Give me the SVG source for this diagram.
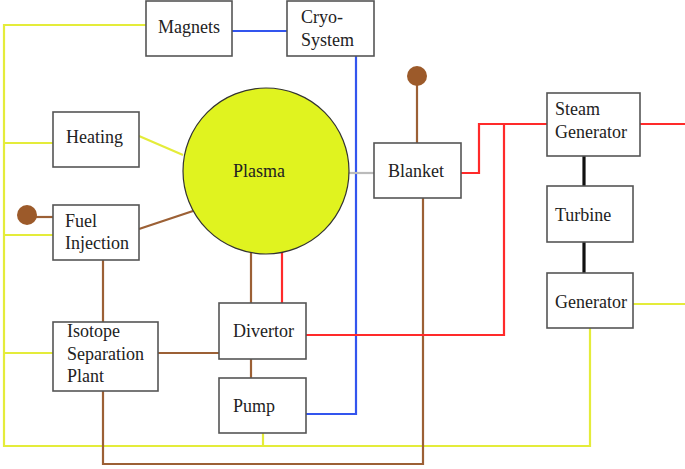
<svg xmlns="http://www.w3.org/2000/svg" width="685" height="469" viewBox="0 0 685 469">
<style>
.box{fill:#fff;stroke:#555;stroke-width:1.6}
.t{font-family:"Liberation Serif","Times New Roman",serif;font-size:18px;fill:#222}
.y{stroke:#e4ec3a;stroke-width:2.2;fill:none}
.b{stroke:#3355ee;stroke-width:2.2;fill:none}
.r{stroke:#ff2a2a;stroke-width:2.2;fill:none}
.br{stroke:#9c6035;stroke-width:2.2;fill:none}
.k{stroke:#111;stroke-width:3.2;fill:none}
.g{stroke:#bbb;stroke-width:2.2;fill:none}
</style>
<rect width="685" height="469" fill="#fff"/>
<g id="connectors">
<path class="y" d="M146,25 H4 V446 H590 V328"/>
<path class="y" d="M4,143 H53"/>
<path class="y" d="M4,235 H53"/>
<path class="y" d="M4,353 H53"/>
<path class="y" d="M263,433 V446"/>
<path class="y" d="M139,136 L183,155"/>
<path class="y" d="M633,304 H685"/>
<path class="b" d="M232,31 H287"/>
<path class="b" d="M306,414 H356 V56"/>
<path class="g" d="M349,173 H374"/>
<path class="br" d="M139,229 L193,211"/>
<path class="br" d="M53,217 H27"/>
<circle cx="27" cy="215" r="10" fill="#9c5a2a"/>
<path class="br" d="M103,260 V322"/>
<path class="br" d="M158,353 H220"/>
<path class="br" d="M251,252 V303"/>
<path class="br" d="M251,359 V378"/>
<path class="br" d="M103,391 V464 H423 V198"/>
<path class="br" d="M417,143 V76"/>
<circle cx="417" cy="76" r="10" fill="#9c5a2a"/>
<path class="r" d="M282,252 V303"/>
<path class="r" d="M306,335 H504 V124"/>
<path class="r" d="M461,173 H479 V124 H547"/>
<path class="r" d="M640,124 H685"/>
<path class="k" d="M584,156 V186"/>
<path class="k" d="M584,242 V273"/>
</g>
<g id="magnets"><rect class="box" x="146" y="1" width="86" height="55"/><text class="t" x="158" y="33">Magnets</text></g>
<g id="cryo"><rect class="box" x="287" y="1" width="87" height="55"/><text class="t" x="301" y="23">Cryo-</text><text class="t" x="301" y="46">System</text></g>
<g id="heating"><rect class="box" x="53" y="112" width="86" height="55"/><text class="t" x="66" y="143">Heating</text></g>
<g id="plasma"><circle cx="266" cy="171" r="83" fill="#e0f31f" stroke="#333" stroke-width="1.2"/><text class="t" x="259" y="177" text-anchor="middle">Plasma</text></g>
<g id="blanket"><rect class="box" x="374" y="143" width="87" height="55"/><text class="t" x="388" y="177">Blanket</text></g>
<g id="fuel"><rect class="box" x="53" y="205" width="86" height="55"/><text class="t" x="65" y="227">Fuel</text><text class="t" x="65" y="249">Injection</text></g>
<g id="isotope"><rect class="box" x="53" y="322" width="105" height="69"/><text class="t" x="67" y="337">Isotope</text><text class="t" x="67" y="360">Separation</text><text class="t" x="67" y="382">Plant</text></g>
<g id="divertor"><rect class="box" x="219" y="303" width="87" height="56"/><text class="t" x="233" y="337">Divertor</text></g>
<g id="pump"><rect class="box" x="219" y="378" width="87" height="55"/><text class="t" x="233" y="412">Pump</text></g>
<g id="steam"><rect class="box" x="547" y="93" width="93" height="63"/><text class="t" x="555" y="115">Steam</text><text class="t" x="555" y="138">Generator</text></g>
<g id="turbine"><rect class="box" x="547" y="186" width="86" height="56"/><text class="t" x="555" y="221">Turbine</text></g>
<g id="generator"><rect class="box" x="547" y="273" width="86" height="55"/><text class="t" x="555" y="308">Generator</text></g>
</svg>
